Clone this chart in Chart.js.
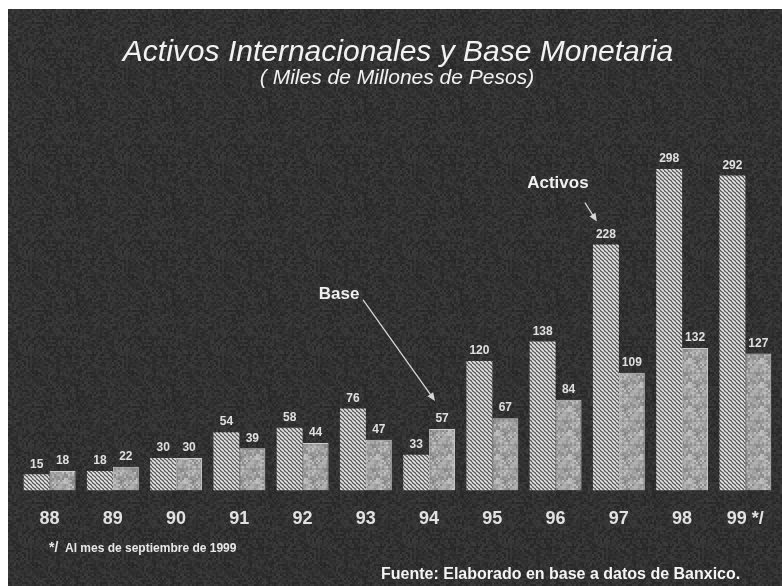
<!DOCTYPE html>
<html>
<head>
<meta charset="utf-8">
<title>Activos Internacionales y Base Monetaria</title>
<script src="https://cdn.jsdelivr.net/npm/chart.js@4/dist/chart.umd.min.js"></script>
<style>
  html, body { margin: 0; padding: 0; background: #fff; }
  #wrap { width: 782px; height: 586px; }
</style>
</head>
<body>
<div id="wrap"><canvas id="activosChart" width="782" height="586"></canvas></div>
<script>
// Years (1999 is up to September)
const years = ['88', '89', '90', '91', '92', '93', '94', '95', '96', '97', '98', '99 */'];
// International assets and monetary base, thousands of millions of pesos
const activos = [15, 18, 30, 54, 58, 76, 33, 120, 138, 228, 298, 292];
const base = [18, 22, 30, 39, 44, 47, 57, 67, 84, 109, 132, 127];

const FONT = '"Liberation Sans", Arial, sans-serif';

// small deterministic hash for textures
function hash(x, y) {
  const s = Math.sin(x * 12.9898 + y * 78.233) * 43758.5453;
  return s - Math.floor(s);
}

// diagonal hatch for the assets bars
function hatchPattern() {
  const c = document.createElement('canvas');
  c.width = 4; c.height = 4;
  const g = c.getContext('2d');
  g.fillStyle = '#5a5a5a';
  g.fillRect(0, 0, 4, 4);
  g.strokeStyle = '#e4e4e4';
  g.lineWidth = 1.6;
  for (const k of [-4, 0, 4]) {
    g.beginPath();
    g.moveTo(0, k);
    g.lineTo(4, 4 + k);
    g.stroke();
  }
  return g.createPattern(c, 'repeat');
}

// mottled grey for the monetary base bars
function mottledPattern() {
  const c = document.createElement('canvas');
  c.width = 24; c.height = 24;
  const g = c.getContext('2d');
  for (let y = 0; y < 24; y += 2) {
    for (let x = 0; x < 24; x += 2) {
      const v = Math.round(135 + hash(x, y) * 60);
      g.fillStyle = `rgb(${v},${v},${v})`;
      g.fillRect(x, y, 2, 2);
    }
  }
  return g.createPattern(c, 'repeat');
}

// grainy dark panel
function grainPattern() {
  const c = document.createElement('canvas');
  c.width = 96; c.height = 96;
  const g = c.getContext('2d');
  for (let y = 0; y < 96; y += 2) {
    for (let x = 0; x < 96; x += 2) {
      const v = Math.round(38 + hash(x + 3, y + 7) * 22);
      g.fillStyle = `rgb(${v},${v},${v})`;
      g.fillRect(x, y, 2, 2);
    }
  }
  return g.createPattern(c, 'repeat');
}

const panel = {
  id: 'panel',
  beforeDraw(chart) {
    const ctx = chart.ctx;
    ctx.save();
    ctx.fillStyle = '#ffffff';
    ctx.fillRect(0, 0, chart.width, chart.height);
    ctx.fillStyle = grainPattern();
    ctx.fillRect(8, 9, chart.width - 8, chart.height - 9);
    ctx.restore();
  }
};

function arrow(ctx, x1, y1, x2, y2) {
  const a = Math.atan2(y2 - y1, x2 - x1);
  ctx.beginPath();
  ctx.moveTo(x1, y1);
  ctx.lineTo(x2 - 6 * Math.cos(a), y2 - 6 * Math.sin(a));
  ctx.stroke();
  ctx.beginPath();
  ctx.moveTo(x2, y2);
  ctx.lineTo(x2 - 9 * Math.cos(a - 0.4), y2 - 9 * Math.sin(a - 0.4));
  ctx.lineTo(x2 - 9 * Math.cos(a + 0.4), y2 - 9 * Math.sin(a + 0.4));
  ctx.closePath();
  ctx.fill();
}

const texts = {
  id: 'texts',
  afterDatasetsDraw(chart) {
    const ctx = chart.ctx;
    const yScale = chart.scales.y;
    ctx.save();
    ctx.textAlign = 'center';
    ctx.textBaseline = 'middle';

    // values above each bar
    ctx.font = `bold 12px ${FONT}`;
    ctx.fillStyle = '#e0e0e0';
    chart.data.datasets.forEach((ds, di) => {
      chart.getDatasetMeta(di).data.forEach((bar, i) => {
        ctx.fillText(String(ds.data[i]), bar.x, bar.y - 10);
      });
    });

    // headings
    ctx.fillStyle = '#f2f2f2';
    ctx.font = `italic 30px ${FONT}`;
    ctx.fillText('Activos Internacionales y Base Monetaria', 398, 53);
    ctx.font = `italic 21px ${FONT}`;
    ctx.fillText('( Miles de Millones de Pesos)', 397, 78);

    // series callouts
    ctx.strokeStyle = '#d6d6d6';
    ctx.fillStyle = '#d6d6d6';
    ctx.lineWidth = 1.3;
    const a97 = chart.getDatasetMeta(0).data[9];
    const b94 = chart.getDatasetMeta(1).data[6];
    const aTop = yScale.getPixelForValue(activos[9]);
    const bTop = yScale.getPixelForValue(base[6]);
    arrow(ctx, a97.x - 21, aTop - 42, a97.x - 9, aTop - 23);
    arrow(ctx, b94.x - 79, bTop - 129, b94.x - 7, bTop - 28);

    ctx.fillStyle = '#f0f0f0';
    ctx.font = `bold 17px ${FONT}`;
    ctx.fillText('Activos', a97.x - 48, aTop - 61);
    ctx.fillText('Base', b94.x - 103, bTop - 135);

    // notes
    ctx.textAlign = 'left';
    ctx.fillStyle = '#e8e8e8';
    ctx.font = `bold 14px ${FONT}`;
    ctx.fillText('*/', 49, 548);
    ctx.font = `bold 12px ${FONT}`;
    ctx.fillText('Al mes de septiembre de 1999', 65, 549);
    ctx.fillStyle = '#f4f4f4';
    ctx.font = `bold 16px ${FONT}`;
    ctx.fillText('Fuente: Elaborado en base a datos de Banxico.', 381, 575);
    ctx.restore();
  }
};

const ctx = document.getElementById('activosChart').getContext('2d');
const chart = new Chart(ctx, {
  type: 'bar',
  data: {
    labels: years,
    datasets: [{
      label: 'Activos',
      data: activos,
      backgroundColor: hatchPattern(),
      borderWidth: 0,
      categoryPercentage: 0.82,
      barPercentage: 1.0
    }, {
      label: 'Base',
      data: base,
      backgroundColor: mottledPattern(),
      borderColor: '#cdcdcd',
      borderWidth: 1,
      categoryPercentage: 0.82,
      barPercentage: 1.0
    }]
  },
  options: {
    responsive: false,
    animation: false,
    layout: { padding: { left: 18, right: 3, top: 113, bottom: 38 } },
    plugins: {
      legend: { display: false },
      tooltip: { enabled: false }
    },
    scales: {
      x: {
        grid: { display: false, drawTicks: false },
        border: { display: false },
        ticks: {
          color: '#e2e2e2',
          padding: 18,
          font: { family: FONT, size: 18, weight: 'bold' },
          maxRotation: 0,
          autoSkip: false
        }
      },
      y: {
        display: false,
        min: 0,
        max: 350
      }
    }
  },
  plugins: [panel, texts]
});
</script>
</body>
</html>
